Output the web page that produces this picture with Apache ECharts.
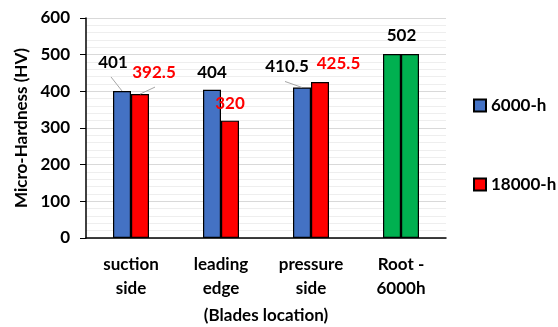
<!DOCTYPE html>
<html>
<head>
<meta charset="utf-8">
<script src="https://cdn.jsdelivr.net/npm/echarts@6/dist/echarts.min.js"></script>
<style>
  html, body { margin: 0; padding: 0; background: #fff; }
  #chart { width: 558px; height: 327px; }
</style>
</head>
<body>
<div id="chart"></div>
<script>
// Blade micro-hardness by location
const categories = ['suction\nside', 'leading\nedge', 'pressure\nside', 'Root -\n6000h'];
const hardness6000 = [401, 404, 410.5, 502];
const hardness18000 = [392.5, 320, 425.5, 502];
const seriesNames = ['6000-h', '18000-h'];
const yTicks = [0, 100, 200, 300, 400, 500, 600];

const FONT = 'Lato';
const FS = 17;
const BAR_W = 18;
const BLUE = '#4472C4', RED = '#FF0000', GREEN = '#00B050';

// label nudges (dx, dy) and whether a leader line is drawn, per bar
const blueNudge = [[-9, -15, true], [0, -4, false], [-15, -7, true], [9.5, -5, false]];
const redNudge = [[14, -8, true], [0, -4, false], [18.5, -4.5, false], [0, 0, false]];

function buildData(values, color, labelColor, isRed) {
  return values.map((v, i) => {
    const isRoot = i === categories.length - 1;
    return {
      value: v,
      itemStyle: { color: isRoot ? GREEN : color },
      label: { show: !(isRed && isRoot), color: labelColor }
    };
  });
}

// rows for the leader-line layer: [category index, value, side (-1 left bar / +1 right bar), dx, dy]
const leaderRows = [];
hardness6000.forEach((v, i) => { if (blueNudge[i][2]) leaderRows.push([i, v, -1, blueNudge[i][0], blueNudge[i][1]]); });
hardness18000.forEach((v, i) => { if (redNudge[i][2]) leaderRows.push([i, v, 1, redNudge[i][0], redNudge[i][1]]); });

const chart = echarts.init(document.getElementById('chart'), null, { renderer: 'canvas' });

const barLabel = { show: true, position: 'top', distance: 5, fontFamily: FONT, fontWeight: 'bold', fontSize: FS };
const legendText = { fontFamily: FONT, fontWeight: 'bold', fontSize: FS, color: '#000' };

chart.setOption({
  animation: false,
  backgroundColor: '#ffffff',
  textStyle: { fontFamily: FONT },
  grid: { left: 86, right: 112, top: 18, bottom: 89, containLabel: false, outerBoundsMode: 'none' },
  legend: [
    { data: [seriesNames[0]], left: 473, top: 97, padding: 0, icon: 'rect', itemWidth: 12, itemHeight: 12, itemGap: 5, textStyle: legendText },
    { data: [seriesNames[1]], left: 473, top: 176, padding: 0, icon: 'rect', itemWidth: 12, itemHeight: 12, itemGap: 5, textStyle: legendText }
  ],
  xAxis: {
    type: 'category',
    data: categories,
    name: '(Blades location)',
    nameLocation: 'middle',
    nameGap: 69,
    nameTextStyle: { fontFamily: FONT, fontWeight: 'bold', fontSize: FS, color: '#000' },
    axisLine: { show: true, lineStyle: { color: '#000', width: 1.5 } },
    axisTick: { show: false },
    axisLabel: { fontFamily: FONT, fontWeight: 'bold', fontSize: FS, color: '#000', margin: 15, lineHeight: 24 },
    splitLine: { show: false }
  },
  yAxis: {
    type: 'value',
    min: yTicks[0],
    max: yTicks[yTicks.length - 1],
    interval: 100,
    name: 'Micro-Hardness (HV)',
    nameLocation: 'middle',
    nameGap: 56,
    nameRotate: 90,
    nameTextStyle: { fontFamily: FONT, fontWeight: 'bold', fontSize: FS, color: '#000' },
    axisLine: { show: true, lineStyle: { color: '#000', width: 1.5 } },
    axisTick: { show: true, length: 6, lineStyle: { color: '#000', width: 1 } },
    axisLabel: { fontFamily: FONT, fontWeight: 'bold', fontSize: FS, color: '#000', margin: 16 },
    splitLine: { show: true, lineStyle: { color: '#d9d9d9', width: 1 } },
    minorTick: { show: false, splitNumber: 5 },
    minorSplitLine: { show: true, lineStyle: { color: '#eeeeee', width: 1 } }
  },
  series: [
    {
      name: seriesNames[0],
      type: 'bar',
      barWidth: BAR_W,
      barGap: '0%',
      itemStyle: { color: BLUE, borderColor: '#000', borderWidth: 1.2 },
      label: Object.assign({}, barLabel, { color: '#000' }),
      labelLayout: p => ({ dx: blueNudge[p.dataIndex][0], dy: blueNudge[p.dataIndex][1] }),
      data: buildData(hardness6000, BLUE, '#000', false)
    },
    {
      name: seriesNames[1],
      type: 'bar',
      barWidth: BAR_W,
      barGap: '0%',
      itemStyle: { color: RED, borderColor: '#000', borderWidth: 1.2 },
      label: Object.assign({}, barLabel, { color: RED }),
      labelLayout: p => ({ dx: redNudge[p.dataIndex][0], dy: redNudge[p.dataIndex][1] }),
      data: buildData(hardness18000, RED, RED, true)
    },
    {
      // thin grey leader lines joining shifted labels to their bar tops
      name: 'leaders',
      type: 'custom',
      silent: true,
      z: 5,
      data: leaderRows,
      renderItem: (params, api) => {
        const top = api.coord([api.value(0), api.value(1)]);
        const side = api.value(2), dx = api.value(3), dy = api.value(4);
        const barCx = top[0] + side * BAR_W / 2;
        const labelCx = barCx + dx;
        const labelBottom = top[1] - 5 + dy;
        const x1 = dx < 0 ? labelCx - 2 : labelCx + 1;
        return {
          type: 'line',
          shape: { x1: x1, y1: labelBottom + 6, x2: barCx, y2: top[1] },
          style: { stroke: '#a6a6a6', lineWidth: 1 }
        };
      }
    }
  ]
});
</script>
</body>
</html>
